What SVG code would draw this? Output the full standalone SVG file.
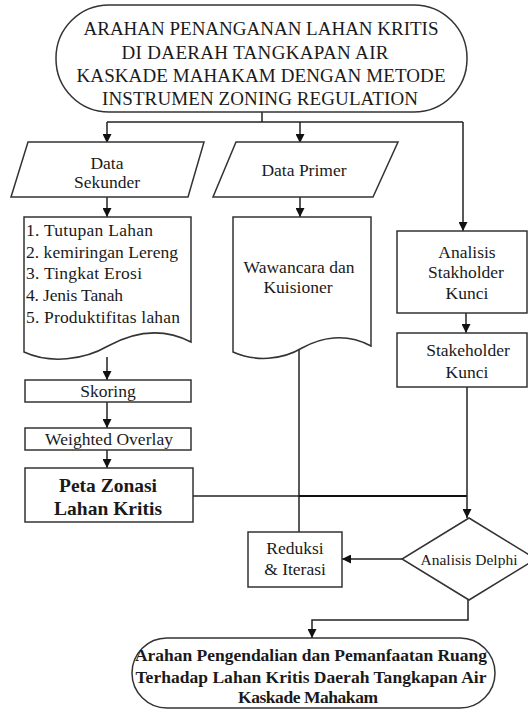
<svg xmlns="http://www.w3.org/2000/svg" width="528" height="710" viewBox="0 0 528 710">
<style>
.s{fill:#fff;stroke:#333;stroke-width:1.5}
.c{fill:none;stroke:#222;stroke-width:1.5}
.k{stroke-width:2.2;stroke:#111}
text{font-family:"Liberation Serif","Times New Roman",serif;fill:#1a1a1a;text-anchor:middle;dominant-baseline:central;font-size:17.5px}
.h{font-size:19px}
.b{font-weight:bold}
.pz{font-size:19.5px}
.l{text-anchor:start}
.sm{font-size:15.5px}
</style>
<defs>
<marker id="ah" viewBox="0 0 10 10" refX="10" refY="5" markerWidth="9" markerHeight="9" markerUnits="userSpaceOnUse" orient="auto">
<path d="M0,0 L10,5 L0,10 Z" fill="#111"/>
</marker>
</defs>
<g id="connectors">
<path class="c" d="M262,112 V122"/>
<path class="c" d="M107,122 H463"/>
<path class="c" d="M107,122 V143" marker-end="url(#ah)"/>
<path class="c" d="M300,122 V143" marker-end="url(#ah)"/>
<path class="c" d="M463,122 V231" marker-end="url(#ah)"/>
<path class="c" d="M107,197 V217" marker-end="url(#ah)"/>
<path class="c" d="M300,197 V217" marker-end="url(#ah)"/>
<path class="c" d="M466,313 V333" marker-end="url(#ah)"/>
<path class="c" d="M107,357 V380" marker-end="url(#ah)"/>
<path class="c" d="M107,402 V428" marker-end="url(#ah)"/>
<path class="c" d="M107,450 V468" marker-end="url(#ah)"/>
<path class="c" d="M299,345 V532"/>
<path class="c" d="M193,496 H299"/>
<path class="c k" d="M299,496 H467"/>
<path class="c" d="M467,387 V518" marker-end="url(#ah)"/>
<path class="c" d="M402,559 H342" marker-end="url(#ah)"/>
<path class="c" d="M468,600 V620 H312 V638" marker-end="url(#ah)"/>
</g>
<g id="start">
<rect class="s" x="56" y="5" width="411" height="107" rx="53" ry="53"/>
<text class="h" x="261" y="28" textLength="355" lengthAdjust="spacing">ARAHAN PENANGANAN LAHAN KRITIS</text>
<text class="h" x="255" y="52" textLength="267" lengthAdjust="spacing">DI DAERAH TANGKAPAN AIR</text>
<text class="h" x="261" y="75" textLength="369" lengthAdjust="spacing">KASKADE MAHAKAM DENGAN METODE</text>
<text class="h" x="260" y="98" textLength="316" lengthAdjust="spacing">INSTRUMEN ZONING REGULATION</text>
</g>
<g id="data-sekunder">
<path class="s" d="M28,142 H204 L188,197 H11 Z"/>
<text x="107" y="163">Data</text>
<text x="107" y="182">Sekunder</text>
</g>
<g id="data-primer">
<path class="s" d="M236,142 H398 L373,197 H213 Z"/>
<text x="304" y="170">Data Primer</text>
</g>
<g id="daftar-data">
<path class="s" d="M24,217 H191 V342 C160,326 130,334 108,346 C84,360 50,364 24,352 Z"/>
<text class="l" x="26" y="230" textLength="127" lengthAdjust="spacing">1. Tutupan Lahan</text>
<text class="l" x="26" y="252" textLength="152" lengthAdjust="spacing">2. kemiringan Lereng</text>
<text class="l" x="26" y="273" textLength="116" lengthAdjust="spacing">3. Tingkat Erosi</text>
<text class="l" x="26" y="295" textLength="97" lengthAdjust="spacing">4. Jenis Tanah</text>
<text class="l" x="26" y="317" textLength="154" lengthAdjust="spacing">5. Produktifitas lahan</text>
</g>
<g id="wawancara">
<path class="s" d="M233,217 H371 V346 C345,332 320,338 302,348 C282,360 255,362 233,352 Z"/>
<text x="299" y="267">Wawancara dan</text>
<text x="298" y="287">Kuisioner</text>
</g>
<g id="analisis-stakeholder">
<rect class="s" x="397" y="231" width="130" height="82"/>
<text x="467" y="252">Analisis</text>
<text x="466" y="272">Stakholder</text>
<text x="467" y="293">Kunci</text>
</g>
<g id="stakeholder-kunci">
<rect class="s" x="397" y="333" width="130" height="54"/>
<text x="468" y="350">Stakeholder</text>
<text x="467" y="372">Kunci</text>
</g>
<g id="skoring">
<rect class="s" x="25" y="380" width="166" height="22"/>
<text x="108" y="391">Skoring</text>
</g>
<g id="weighted-overlay">
<rect class="s" x="25" y="428" width="166" height="22"/>
<text x="109" y="439" textLength="128" lengthAdjust="spacing">Weighted Overlay</text>
</g>
<g id="peta-zonasi">
<rect class="s" x="25" y="468" width="168" height="54"/>
<text class="b pz" x="108" y="485" textLength="98" lengthAdjust="spacing">Peta Zonasi</text>
<text class="b pz" x="108" y="508" textLength="108" lengthAdjust="spacing">Lahan Kritis</text>
</g>
<g id="reduksi">
<rect class="s" x="248" y="532" width="94" height="55"/>
<text x="295" y="548">Reduksi</text>
<text x="295" y="569">&amp; Iterasi</text>
</g>
<g id="delphi">
<path class="s" d="M469,518 L536,559 L469,600 L402,559 Z"/>
<text class="sm" x="469" y="559" textLength="97" lengthAdjust="spacing">Analisis Delphi</text>
</g>
<g id="end">
<rect class="s" x="132" y="638" width="363" height="70" rx="35" ry="35"/>
<text class="b" x="311" y="655" textLength="352" lengthAdjust="spacing">Arahan Pengendalian dan Pemanfaatan Ruang</text>
<text class="b" x="311" y="677" textLength="351" lengthAdjust="spacing">Terhadap Lahan Kritis Daerah Tangkapan Air</text>
<text class="b" x="308" y="697" textLength="140" lengthAdjust="spacing">Kaskade Mahakam</text>
</g>
</svg>
